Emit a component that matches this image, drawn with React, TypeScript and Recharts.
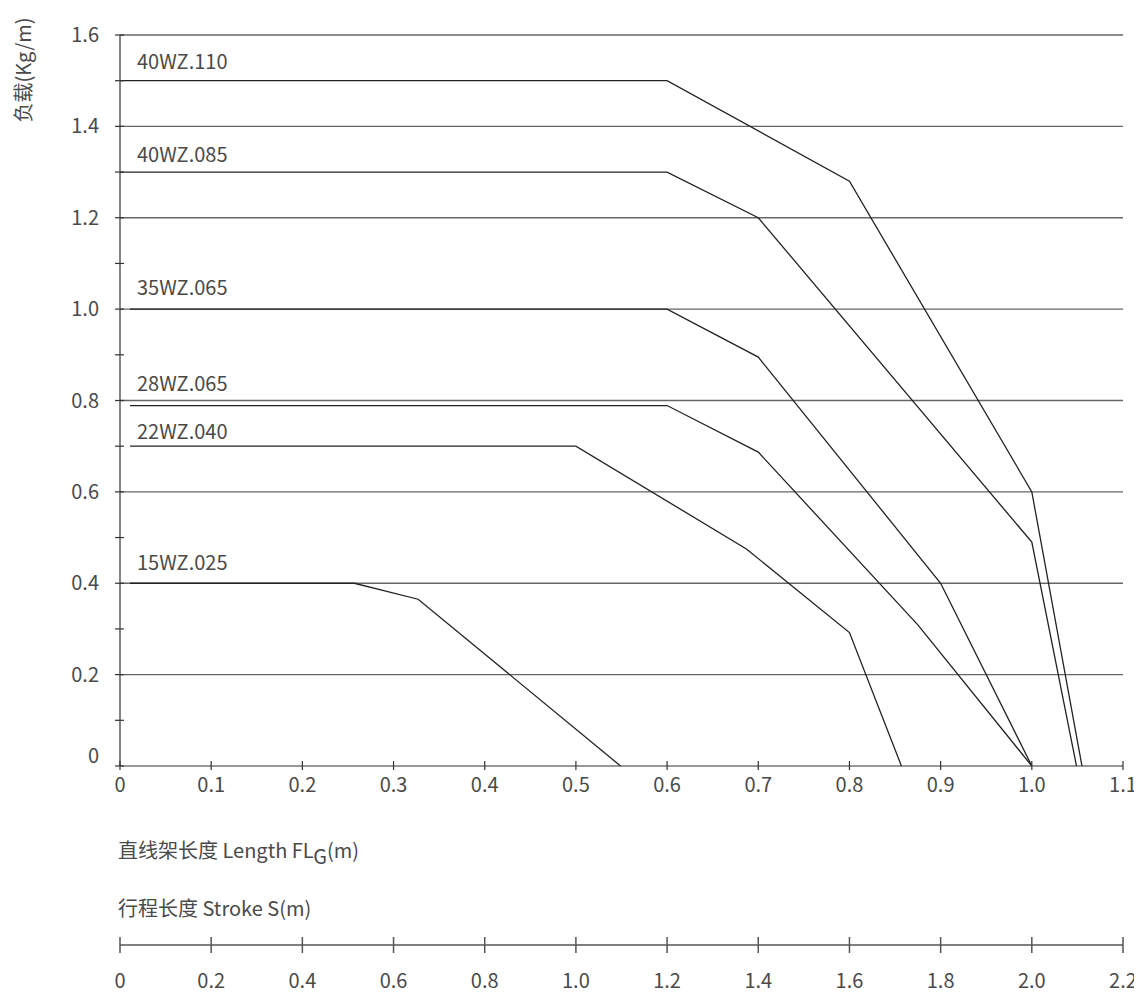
import { LineChart, Line, XAxis, YAxis, ReferenceLine, Label } from 'recharts';

const lengthTicks = [0, 0.1, 0.2, 0.3, 0.4, 0.5, 0.6, 0.7, 0.8, 0.9, 1.0, 1.1];
const loadTicks = [0, 0.1, 0.2, 0.3, 0.4, 0.5, 0.6, 0.7, 0.8, 0.9, 1.0, 1.1, 1.2, 1.3, 1.4, 1.5, 1.6];
const gridLoads = [0.2, 0.4, 0.6, 0.8, 1.0, 1.2, 1.4, 1.6];
const strokeTicks = [0, 0.2, 0.4, 0.6, 0.8, 1.0, 1.2, 1.4, 1.6, 1.8, 2.0, 2.2];

const models = ['40WZ.110', '40WZ.085', '35WZ.065', '28WZ.065', '22WZ.040', '15WZ.025'];

// 直线架长度 (m) / 负载 (Kg/m)
const len40WZ110 = [0, 0.6, 0.8, 1.0, 1.055];
const load40WZ110 = [1.5, 1.5, 1.28, 0.6, 0];
const len40WZ085 = [0, 0.6, 0.7, 1.0, 1.049];
const load40WZ085 = [1.3, 1.3, 1.2, 0.49, 0];
const len35WZ065 = [0.011, 0.6, 0.7, 0.9, 1.0];
const load35WZ065 = [1.0, 1.0, 0.895, 0.4, 0];
const len28WZ065 = [0.011, 0.6, 0.7, 0.875, 1.0];
const load28WZ065 = [0.789, 0.789, 0.687, 0.309, 0];
const len22WZ040 = [0.011, 0.5, 0.687, 0.8, 0.857];
const load22WZ040 = [0.7, 0.7, 0.475, 0.292, 0];
const len15WZ025 = [0.011, 0.257, 0.327, 0.549];
const load15WZ025 = [0.4, 0.4, 0.365, 0];

const lengths = [len40WZ110, len40WZ085, len35WZ065, len28WZ065, len22WZ040, len15WZ025];
const loads = [load40WZ110, load40WZ085, load35WZ065, load28WZ065, load22WZ040, load15WZ025];

const series = models.map((name, i) => ({
  name,
  data: lengths[i].map((x, j) => ({ x, y: loads[i][j] })),
}));

// invisible carrier so the stroke axis gets a domain
const strokeData = strokeTicks.map((x) => ({ x, y: 0 }));

// how far above its line each model name sits
const labelDy = [-12, -10, -14, -15, -7, -13];

const FONT = '"Noto Sans CJK SC", "Noto Sans", sans-serif';
const TEXT = '#4a4a4a';
const AXIS = '#333';

const fmt = (v: number) => (v === 0 ? '0' : v.toFixed(1));

const LengthTick = (props: any) => {
  const { x, y, payload } = props;
  return (
    <g>
      <line x1={x} x2={x} y1={y - 5} y2={y + 4} stroke={AXIS} strokeWidth={1.2} />
      <text x={x} y={y + 26} textAnchor="middle" fill={TEXT} fontSize={20} fontFamily={FONT}>
        {fmt(payload.value)}
      </text>
    </g>
  );
};

const StrokeTick = (props: any) => {
  const { x, y, payload } = props;
  return (
    <g>
      <line x1={x} x2={x} y1={y - 8} y2={y + 8} stroke="#555" strokeWidth={1.5} />
      <text x={x} y={y + 43} textAnchor="middle" fill={TEXT} fontSize={20} fontFamily={FONT}>
        {fmt(payload.value)}
      </text>
    </g>
  );
};

const LoadTick = (props: any) => {
  const { x, y, payload } = props;
  const v = payload.value;
  const major = Math.round(v * 10) % 2 === 0;
  return (
    <g>
      <line x1={x - 5} x2={x + 4} y1={y} y2={y} stroke={AXIS} strokeWidth={1.2} />
      {major && (
        <text x={x - 21} y={v === 0 ? y - 3 : y + 7} textAnchor="end" fill={TEXT} fontSize={20} fontFamily={FONT}>
          {fmt(v)}
        </text>
      )}
    </g>
  );
};

export default function App() {
  return (
    <LineChart width={1134} height={985} margin={{ top: 27, right: 19, bottom: 0, left: 0 }}>
      <XAxis
        type="number"
        dataKey="x"
        domain={[0, 1.1]}
        ticks={lengthTicks}
        interval={0}
        height={179}
        tickSize={0}
        tickMargin={0}
        tick={<LengthTick />}
        axisLine={{ stroke: AXIS, strokeWidth: 1.2 }}
        allowDataOverflow
      >
        <Label
          content={() => (
            <g fill={TEXT} fontSize={20} fontFamily={FONT}>
              <text x={110} y={850}>
                直线架长度 Length FL<tspan dy={6}>G</tspan>
                <tspan dy={-6}>(m)</tspan>
              </text>
              <text x={110} y={908}>行程长度 Stroke S(m)</text>
            </g>
          )}
        />
      </XAxis>
      <XAxis
        xAxisId="stroke"
        type="number"
        dataKey="x"
        domain={[0, 2.2]}
        ticks={strokeTicks}
        interval={0}
        height={48}
        tickSize={0}
        tickMargin={0}
        tick={<StrokeTick />}
        axisLine={{ stroke: '#555', strokeWidth: 1.5 }}
        allowDataOverflow
      />
      <YAxis
        type="number"
        domain={[0, 1.6]}
        ticks={loadTicks}
        interval={0}
        width={112}
        tickSize={0}
        tickMargin={0}
        tick={<LoadTick />}
        axisLine={{ stroke: AXIS, strokeWidth: 1.2 }}
      >
        <Label
          content={() => (
            <text
              x={23}
              y={62}
              transform="rotate(-90 23 62)"
              textAnchor="middle"
              fill={TEXT}
              fontSize={20}
              fontFamily={FONT}
            >
              负载(Kg/m)
            </text>
          )}
        />
      </YAxis>
      {gridLoads.map((v) => (
        <ReferenceLine key={v} y={v} stroke="#666" strokeWidth={1.3} />
      ))}
      <Line
        xAxisId="stroke"
        data={strokeData}
        dataKey="y"
        stroke="none"
        dot={false}
        activeDot={false}
        legendType="none"
        isAnimationActive={false}
      />
      {series.map((s, i) => (
        <Line
          key={s.name}
          data={s.data}
          dataKey="y"
          name={s.name}
          type="linear"
          stroke="#222"
          strokeWidth={1.3}
          isAnimationActive={false}
          activeDot={false}
          dot={(p: any) =>
            p.index === 0 ? (
              <text key={p.index} x={129} y={p.cy + labelDy[i]} fill={TEXT} fontSize={20} fontFamily={FONT}>
                {s.name}
              </text>
            ) : (
              <g key={p.index} />
            )
          }
        />
      ))}
    </LineChart>
  );
}
